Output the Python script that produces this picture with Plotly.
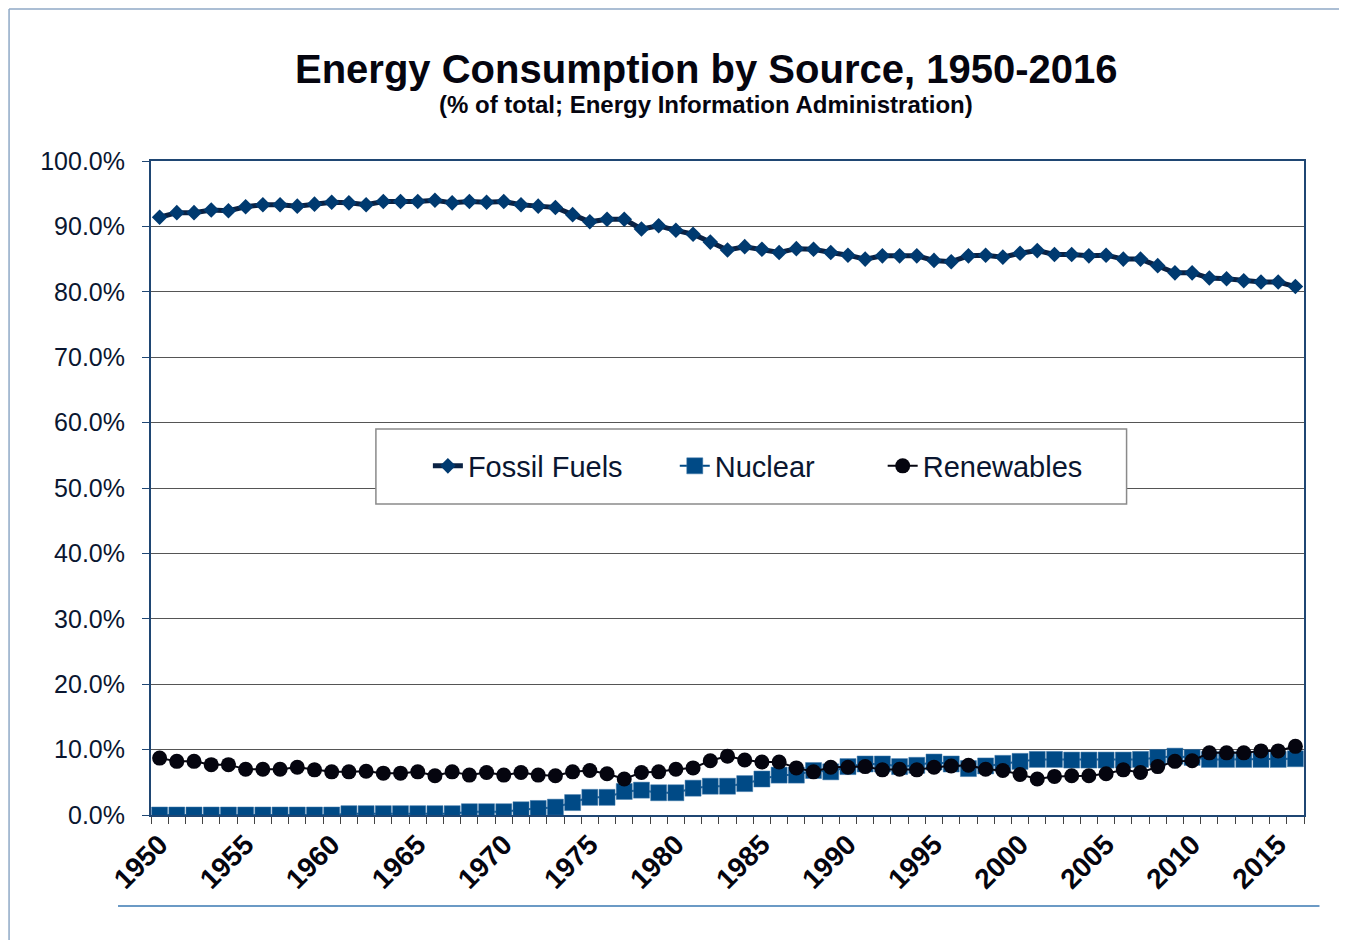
import plotly.graph_objects as go

years = list(range(1950, 2017))

fossil_fuels = [
    91.4, 92.1, 92.1, 92.5, 92.4, 93.0, 93.3, 93.3, 93.1, 93.4,
    93.7, 93.6, 93.3, 93.8, 93.8, 93.8, 94.0, 93.6, 93.8, 93.7,
    93.8, 93.3, 93.1, 92.9, 91.8, 90.7, 91.1, 91.1, 89.6, 90.1,
    89.4, 88.8, 87.6, 86.4, 86.9, 86.5, 86.0, 86.6, 86.5, 86.0,
    85.6, 85.0, 85.5, 85.5, 85.5, 84.8, 84.6, 85.5, 85.6, 85.3,
    85.9, 86.3, 85.7, 85.7, 85.5, 85.6, 85.0, 85.0, 84.0, 82.9,
    82.9, 82.1, 82.0, 81.7, 81.5, 81.5, 80.8,
]

nuclear = [
    0.0, 0.0, 0.0, 0.0, 0.0, 0.0, 0.0, 0.0, 0.0, 0.0,
    0.0, 0.2, 0.2, 0.2, 0.2, 0.2, 0.2, 0.2, 0.5, 0.5,
    0.5, 0.8, 1.0, 1.2, 1.9, 2.7, 2.7, 3.6, 3.8, 3.4,
    3.4, 4.1, 4.4, 4.4, 4.8, 5.5, 6.1, 6.1, 6.8, 6.6,
    7.4, 7.8, 7.8, 7.4, 7.6, 8.1, 7.8, 7.1, 7.5, 7.9,
    8.2, 8.5, 8.5, 8.4, 8.4, 8.4, 8.4, 8.5, 8.8, 9.0,
    8.8, 8.5, 8.5, 8.5, 8.5, 8.5, 8.6,
]

renewables = [
    8.7, 8.2, 8.2, 7.7, 7.7, 7.0, 7.0, 7.0, 7.3, 6.9,
    6.6, 6.6, 6.7, 6.4, 6.4, 6.6, 6.0, 6.6, 6.1, 6.5,
    6.1, 6.5, 6.1, 6.0, 6.6, 6.8, 6.3, 5.5, 6.5, 6.6,
    7.0, 7.2, 8.3, 9.0, 8.4, 8.1, 8.1, 7.2, 6.6, 7.3,
    7.3, 7.4, 6.9, 7.0, 6.9, 7.3, 7.5, 7.6, 7.0, 6.8,
    6.2, 5.5, 5.9, 6.0, 6.0, 6.3, 6.9, 6.5, 7.4, 8.2,
    8.3, 9.5, 9.5, 9.5, 9.8, 9.8, 10.5,
]

tick_years = list(range(1950, 2016, 5))
tick_labels = [str(y) for y in tick_years]
y_ticks = [0, 10, 20, 30, 40, 50, 60, 70, 80, 90, 100]
y_tick_labels = [f"{v:.1f}%" for v in y_ticks]

title_text = "Energy Consumption by Source, 1950-2016"
subtitle_text = "(% of total; Energy Information Administration)"

FONT = "Liberation Sans, Arial, sans-serif"
OFF = 8  # page body margin
W, H = 1347 - OFF, 940 - OFF
L = 151 - OFF
T = 161 - OFF
PR = 1304.5 - OFF
PB = 815 - OFF
R = W - PR
B = H - PB
PW = W - L - R
PH = H - T - B


def px(x):
    return (x - OFF - L) / PW


def py(y):
    return 1 + (T - (y - OFF)) / PH


fig = go.Figure()
fig.add_trace(go.Scatter(
    x=years, y=fossil_fuels, name="Fossil Fuels", mode="lines+markers",
    line=dict(color="#0a2244", width=5),
    marker=dict(symbol="diamond", size=12, color="#003a70"),
    legend="legend",
))
fig.add_trace(go.Scatter(
    x=years, y=nuclear, name="Nuclear", mode="lines+markers",
    line=dict(color="#004a86", width=2),
    marker=dict(symbol="square", size=16, color="#004a86",
                line=dict(color="#3f78ab", width=0.5)),
    legend="legend2",
))
fig.add_trace(go.Scatter(
    x=years, y=renewables, name="Renewables", mode="lines+markers",
    line=dict(color="#05050f", width=2),
    marker=dict(symbol="circle", size=15, color="#05050f"),
    legend="legend3",
))

# legend box
fig.add_shape(type="rect", xref="paper", yref="paper",
              x0=px(376), x1=px(1127), y0=py(504), y1=py(429),
              fillcolor="white", line=dict(color="#8a8a8a", width=1.5),
              layer="above")
# outer frame decorations
fig.add_shape(type="line", xref="paper", yref="paper",
              x0=px(9), x1=px(1347), y0=py(9), y1=py(9),
              line=dict(color="#8fa9c6", width=1.5))
fig.add_shape(type="line", xref="paper", yref="paper",
              x0=px(9), x1=px(9), y0=py(9), y1=py(940),
              line=dict(color="#8fa9c6", width=1.5))
fig.add_shape(type="line", xref="paper", yref="paper",
              x0=px(118), x1=px(1320), y0=py(906), y1=py(906),
              line=dict(color="#3a78b2", width=1.5))

fig.add_annotation(text=f"<b>{title_text}</b>", xref="paper", yref="paper",
                   x=px(706), y=py(69), xanchor="center", yanchor="middle",
                   showarrow=False, font=dict(family=FONT, size=40, color="#05050f"))
fig.add_annotation(text=f"<b>{subtitle_text}</b>", xref="paper", yref="paper",
                   x=px(706), y=py(105), xanchor="center", yanchor="middle",
                   showarrow=False, font=dict(family=FONT, size=24, color="#05050f"))

leg_common = dict(orientation="h", xanchor="left", yanchor="middle",
                  bgcolor="rgba(0,0,0,0)", borderwidth=0, visible=True,
                  font=dict(family=FONT, size=29, color="#0a1630"))

fig.update_layout(
    width=W, height=H,
    margin=dict(l=L, r=R, t=T, b=B),
    paper_bgcolor="white", plot_bgcolor="white",
    font=dict(family=FONT),
    showlegend=True,
    legend=dict(x=px(428), y=py(466), **leg_common),
    legend2=dict(x=px(675), y=py(466), **leg_common),
    legend3=dict(x=px(883), y=py(466), **leg_common),
    xaxis=dict(
        range=[1949.5, 2016.5],
        tickmode="array", tickvals=tick_years, ticktext=tick_labels,
        tickangle=-45, ticks="",
        tickfont=dict(family=FONT, size=28, color="#05050f", weight="bold"),
        showgrid=False, zeroline=False,
        showline=True, linecolor="#1f4673", linewidth=2, mirror=True,
        minor=dict(tick0=1949.5, dtick=1, ticks="outside", ticklen=7,
                   tickcolor="#444", tickwidth=1),
    ),
    yaxis=dict(
        range=[0, 100],
        tickmode="array", tickvals=y_ticks, ticktext=y_tick_labels,
        ticks="outside", ticklen=7, tickcolor="#1f4673",
        ticklabelstandoff=12,
        tickfont=dict(family=FONT, size=25, color="#0a1630"),
        showgrid=True, gridcolor="#555", gridwidth=1,
        zeroline=False,
        showline=True, linecolor="#1f4673", linewidth=2, mirror=True,
    ),
)

fig.write_html("out.html")
